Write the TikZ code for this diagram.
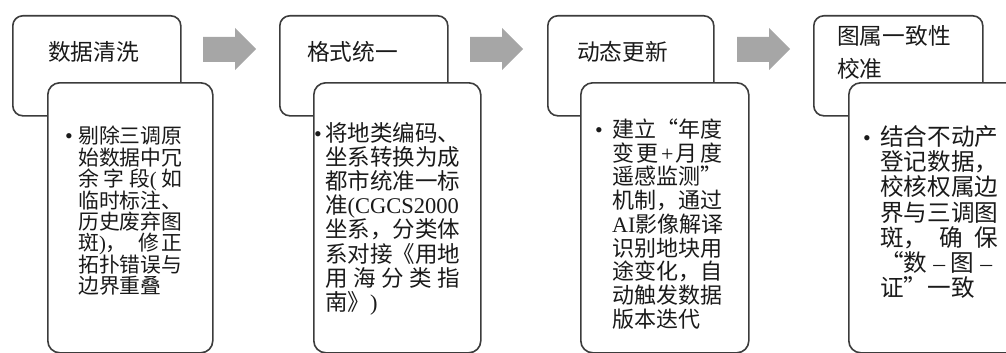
\documentclass[tikz,border=0pt]{standalone}
\usepackage{fontspec}
\setmainfont{Liberation Serif}
\newfontfamily\cjk{Noto Sans CJK SC}
\newcommand\lat[1]{{\rmfamily #1}}
\definecolor{edge}{HTML}{3C3C3C}
\definecolor{arrowgray}{HTML}{A6A6A6}
\definecolor{ink}{HTML}{1A1A1A}
\begin{document}
\begin{tikzpicture}[x=1pt,y=-1pt,
  hdr/.style={draw=edge, line width=1.6pt, rounded corners=10pt, fill=white, anchor=north west, inner sep=0pt},
  body/.style={draw=edge, line width=1.6pt, rounded corners=12pt, fill=white, anchor=north west, inner sep=0pt},
  arr/.style={fill=arrowgray, draw=none},
  ln/.style={anchor=base west, inner sep=0pt, text=ink},
  dot/.style={anchor=base, inner sep=0pt, text=ink, font=\rmfamily\fontsize{22pt}{22pt}\selectfont},
  htxt/.style={anchor=base west, inner sep=0pt, text=ink, font={\cjk\fontsize{22.7pt}{23pt}\selectfont}},
]
\useasboundingbox (0,0) rectangle (1006,353);
\clip (0,0) rectangle (1006,353);

% header boxes
\node[hdr, minimum width=168, minimum height=100] (h1) at (12,15) {};
\node[hdr, minimum width=168, minimum height=100] (h2) at (279,15) {};
\node[hdr, minimum width=166, minimum height=100] (h3) at (547,15) {};
\node[hdr, minimum width=169, minimum height=100] (h4) at (813,15) {};

% header texts
\node[htxt] (t1) at (48,60.6) {数据清洗};
\node[htxt] (t2) at (307,60.6) {格式统一};
\node[htxt] (t3) at (577,60.6) {动态更新};
\node[htxt] (t4a) at (837,44.6) {图属一致性};
\node[htxt] (t4b) at (837,77.6) {校准};

% detail boxes
\node[body, minimum width=165, minimum height=270] (d1) at (47,82) {};
\node[body, minimum width=167, minimum height=270] (d2) at (313,82) {};
\node[body, minimum width=168, minimum height=270] (d3) at (580,82) {};
\node[body, minimum width=175, minimum height=270] (d4) at (848,82) {};

% arrows
\foreach \ax in {203,470,737}{
  \fill[arr] (\ax,37) -- (\ax+32,37) -- (\ax+32,28) -- (\ax+53,49) -- (\ax+32,70) -- (\ax+32,62) -- (\ax,62) -- cycle;
}

% box 1 text
\node[dot] (p1) at (69,143.9) {•};
\foreach \t [count=\i from 0] in {
  剔除三调原,
  始数据中冗,
  {\hbox to 104pt{余\hfill 字\hfill 段\lat{(}\hfill 如}},
  临时标注、,
  历史废弃图,
  {\hbox to 104pt{斑\lat{)}，\hfill 修\hspace{2pt}正}},
  拓扑错误与,
  边界重叠}
  \node[ln, font={\cjk\fontsize{20.8pt}{21pt}\selectfont}] (a\i) at (78,143.9+21.4*\i) {\t};

% box 2 text
\node[dot] (p2) at (318,141.05) {•};
\foreach \t [count=\i from 0] in {
  将地类编码、,
  坐系转换为成,
  都市统准一标,
  {准\lat{(CGCS2000}},
  坐系，分类体,
  系对接《用地,
  {\hbox to 135pt{用\hfill 海\hfill 分\hfill 类\hfill 指}},
  {南》\lat{)}}}
  \node[ln, font={\cjk\fontsize{22.5pt}{23pt}\selectfont}] (b\i) at (325,141.05+24.2*\i) {\t};

% box 3 text
\node[dot] (p3) at (599,137.4) {•};
\foreach \t [count=\i from 0] in {
  {\hbox to 110pt{建\hfill 立\hfill “年\hfill 度}},
  {\hbox to 110pt{变\hfill 更\hfill \lat{+}\hfill 月\hfill 度}},
  遥感监测”,
  机制，通过,
  {\lat{AI}影像解译},
  识别地块用,
  途变化，自,
  动触发数据,
  版本迭代}
  \node[ln, font={\cjk\fontsize{22pt}{22pt}\selectfont}] (c\i) at (612,137.4+23.75*\i) {\t};

% box 4 text
\node[dot] (p4) at (867,145.7) {•};
\foreach \t [count=\i from 0] in {
  结合不动产,
  登记数据，,
  校核权属边,
  界与三调图,
  {\hbox to 118pt{斑，\hfill 确\hfill 保}},
  {\hbox to 112pt{“数\hfill \lat{–}\hfill 图\hfill \lat{–}}},
  证”一致}
  \node[ln, font={\cjk\fontsize{23.6pt}{24pt}\selectfont}] (e\i) at (880,145.7+25.1*\i) {\t};
\end{tikzpicture}
\end{document}
